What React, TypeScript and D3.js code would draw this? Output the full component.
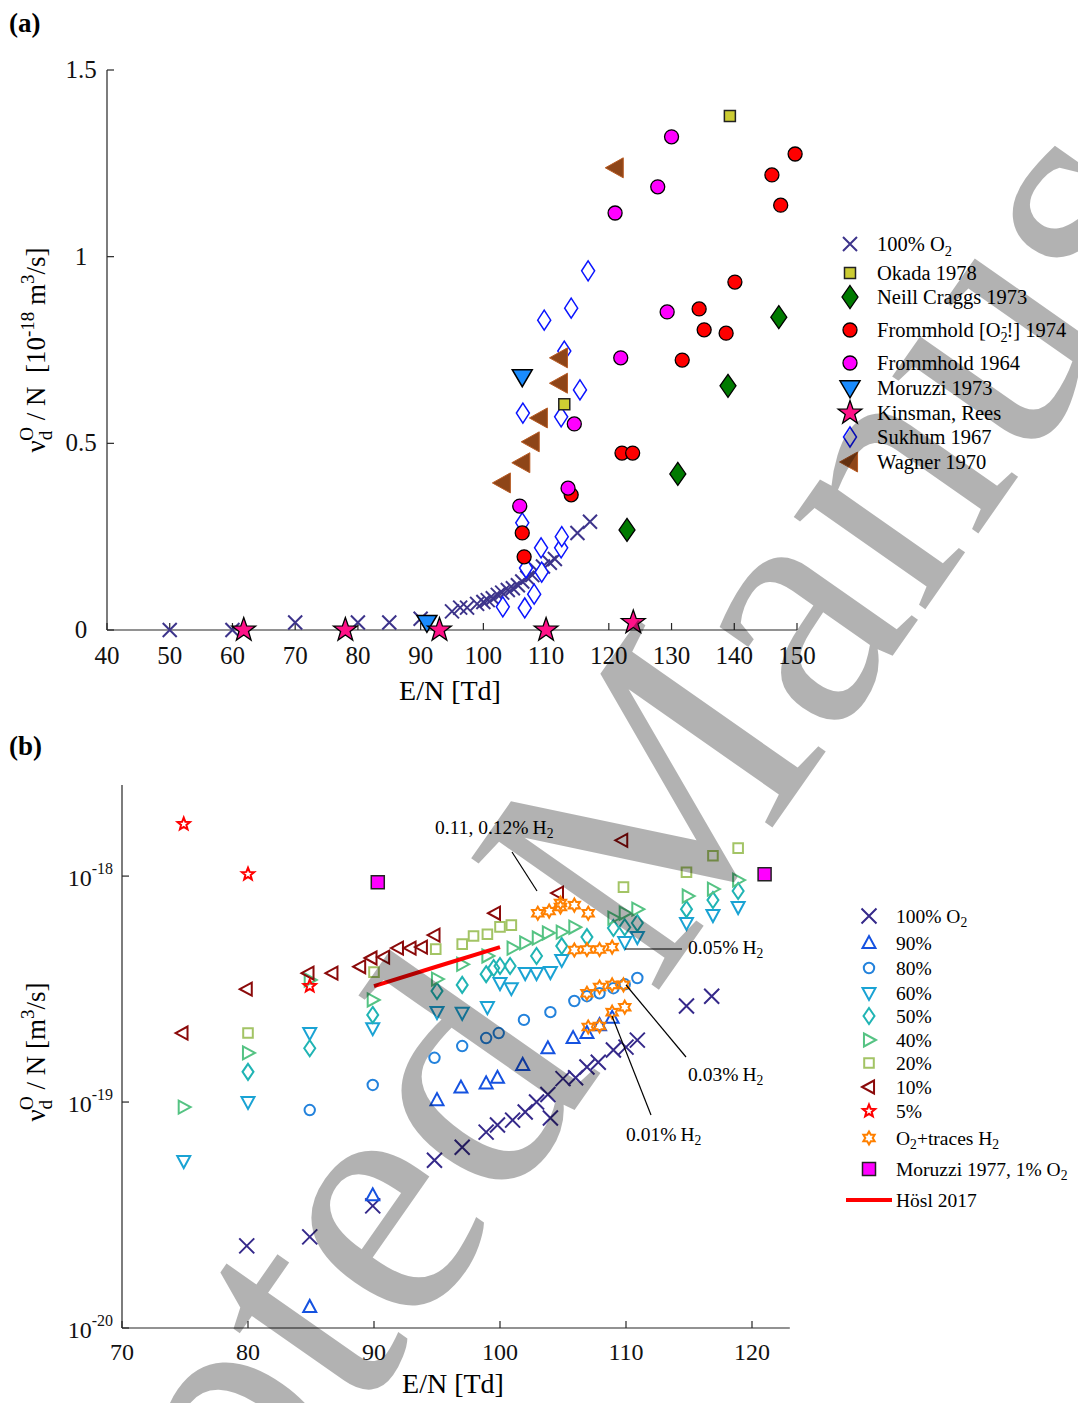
import React from "react";
import * as d3 from "d3";

const W = 1078;
const H = 1403;
const SERIF = '"Liberation Serif", "DejaVu Serif", serif';
const AX = "#262626";

// ---------------- panel (a) data ----------------
const aXTicks = [40, 50, 60, 70, 80, 90, 100, 110, 120, 130, 140, 150];
const aYTicks = [0, 0.5, 1, 1.5];
const aYTickLabels = ["0", "0.5", "1", "1.5"];

const aO2X = [50, 60, 70, 80, 85, 90, 95, 96.3, 97.4, 99, 100, 100.7, 101.5, 102.3, 103, 103.9, 104.7, 105.5, 106.2, 107, 107.8, 108.5, 109.5, 110.6, 111.4, 115, 117];
const aO2Y = [0, 0, 0.02, 0.02, 0.02, 0.03, 0.05, 0.06, 0.06, 0.07, 0.075, 0.08, 0.085, 0.094, 0.1, 0.107, 0.112, 0.12, 0.13, 0.14, 0.147, 0.16, 0.17, 0.18, 0.19, 0.26, 0.29];
const okadaX = [139.3, 112.9];
const okadaY = [1.377, 0.605];
const neillX = [147.1, 139, 131, 122.9];
const neillY = [0.838, 0.654, 0.418, 0.268];
const fr74X = [149.7, 146, 147.4, 140.1, 134.4, 135.2, 138.7, 131.7, 122.1, 123.8, 114, 106.2, 106.5];
const fr74Y = [1.275, 1.219, 1.138, 0.932, 0.86, 0.804, 0.795, 0.723, 0.474, 0.474, 0.362, 0.26, 0.196];
const fr64X = [130, 127.8, 121, 129.3, 121.9, 114.5, 113.5, 105.8];
const fr64Y = [1.321, 1.187, 1.117, 0.852, 0.729, 0.552, 0.38, 0.332];
const mor73X = [106.2, 91];
const mor73Y = [0.678, 0.02];
const kinsX = [61.8, 78, 93, 110, 123.9];
const kinsY = [0, 0, 0, 0, 0.02];
const sukX = [116.7, 114, 109.7, 112.9, 115.4, 106.3, 112.4, 106.2, 109.2, 112.4, 112.5, 106.8, 109.3, 108.1, 103.1, 106.6];
const sukY = [0.962, 0.862, 0.83, 0.747, 0.643, 0.581, 0.571, 0.287, 0.22, 0.22, 0.25, 0.166, 0.155, 0.096, 0.062, 0.059];
const wagX = [121.1, 112.2, 112.2, 109, 107.7, 106.2, 103.1];
const wagY = [1.238, 0.729, 0.661, 0.568, 0.504, 0.448, 0.394];

// ---------------- panel (b) data ----------------
const bXTicks = [70, 80, 90, 100, 110, 120];
const bYTicks = [1e-20, 1e-19, 1e-18];
const bYTickExp = ["-20", "-19", "-18"];

const b100X = [79.9, 84.9, 89.9, 94.8, 97, 98.9, 99.8, 101, 102, 102.9, 103.8, 104, 105, 106, 106.9, 107.8, 109, 110, 110.9, 114.8, 116.8];
const b100Y = [2.31e-20, 2.53e-20, 3.47e-20, 5.53e-20, 6.31e-20, 7.36e-20, 7.91e-20, 8.32e-20, 9.03e-20, 1.0e-19, 1.08e-19, 8.5e-20, 1.27e-19, 1.28e-19, 1.43e-19, 1.5e-19, 1.7e-19, 1.75e-19, 1.88e-19, 2.66e-19, 2.94e-19];
const b90X = [84.9, 89.9, 95, 96.9, 98.9, 99.8, 101.8, 103.8, 105.8, 106.9, 107.9, 108.9];
const b90Y = [1.24e-20, 3.87e-20, 1.02e-19, 1.16e-19, 1.21e-19, 1.28e-19, 1.46e-19, 1.73e-19, 1.92e-19, 2.02e-19, 2.19e-19, 2.36e-19];
const b80X = [84.9, 89.9, 94.8, 97, 98.9, 99.9, 101.9, 104, 105.9, 106.9, 107.9, 109, 109.9, 110.9];
const b80Y = [9.22e-20, 1.19e-19, 1.57e-19, 1.77e-19, 1.92e-19, 2.02e-19, 2.31e-19, 2.5e-19, 2.8e-19, 2.94e-19, 3.03e-19, 3.19e-19, 3.32e-19, 3.54e-19];
const b60X = [74.9, 80, 84.9, 89.9, 95, 97, 99, 100, 100.9, 102, 102.9, 104, 104.9, 109.9, 110.9, 114.8, 116.9, 118.9];
const b60Y = [5.48e-20, 1.0e-19, 2.02e-19, 2.12e-19, 2.5e-19, 2.48e-19, 2.63e-19, 3.36e-19, 3.19e-19, 3.72e-19, 3.72e-19, 3.76e-19, 4.25e-19, 5.1e-19, 5.37e-19, 6.2e-19, 6.72e-19, 7.29e-19];
const b50X = [80, 84.9, 89.9, 95, 97, 98.9, 99.5, 100, 100.8, 102.9, 104.9, 106.9, 109, 109.9, 110.9, 114.8, 116.9, 118.9];
const b50Y = [1.36e-19, 1.73e-19, 2.43e-19, 3.1e-19, 3.3e-19, 3.68e-19, 3.92e-19, 4.0e-19, 4.0e-19, 4.43e-19, 4.9e-19, 5.37e-19, 5.89e-19, 5.94e-19, 6.2e-19, 7.14e-19, 7.83e-19, 8.59e-19];
const b40X = [74.9, 80, 84.9, 89.9, 95, 97, 99, 101, 102, 103, 103.8, 104.9, 105.9, 109, 109.9, 110.9, 114.9, 116.9, 118.9];
const b40Y = [9.5e-20, 1.65e-19, 3.47e-19, 2.83e-19, 3.5e-19, 4.07e-19, 4.43e-19, 4.8e-19, 5.06e-19, 5.32e-19, 5.6e-19, 5.65e-19, 5.94e-19, 6.52e-19, 6.85e-19, 7.14e-19, 8.16e-19, 8.76e-19, 9.6e-19];
const b20X = [80, 90, 94.9, 97, 97.9, 99, 100, 100.9, 109.8, 114.8, 116.9, 118.9];
const b20Y = [2.02e-19, 3.76e-19, 4.75e-19, 5.0e-19, 5.43e-19, 5.53e-19, 5.96e-19, 6.07e-19, 8.94e-19, 1.04e-18, 1.23e-18, 1.33e-18];
const b10X = [74.8, 79.9, 84.8, 86.7, 88.9, 89.8, 90.8, 91.9, 92.9, 93.8, 94.8, 99.6, 104.6, 109.7];
const b10Y = [2.02e-19, 3.16e-19, 3.72e-19, 3.72e-19, 3.97e-19, 4.34e-19, 4.38e-19, 4.8e-19, 4.8e-19, 4.85e-19, 5.48e-19, 6.85e-19, 8.41e-19, 1.44e-18];
const b5X = [74.9, 80, 84.9];
const b5Y = [1.7e-18, 1.02e-18, 3.26e-19];
const trX = [103, 103.9, 104.8, 104.8, 105.9, 107, 105.9, 106.9, 107.9, 108.9, 106.9, 107.9, 108.9, 109.8, 107, 107.9, 108.9, 109.9];
const trY = [6.85e-19, 7.0e-19, 7.6e-19, 7.3e-19, 7.44e-19, 6.85e-19, 4.71e-19, 4.73e-19, 4.73e-19, 4.85e-19, 3.03e-19, 3.23e-19, 3.3e-19, 3.3e-19, 2.15e-19, 2.17e-19, 2.5e-19, 2.63e-19];
const mor77X = [90.3, 121];
const mor77Y = [9.4e-19, 1.02e-18];
const hoslX = [90, 95, 100];
const hoslY = [3.26e-19, 3.98e-19, 4.85e-19];

// ---------------- markers ----------------
const starPath = (n: number, R: number, r: number) => {
  const pts = d3.range(n * 2).map((i) => {
    const a = -Math.PI / 2 + (i * Math.PI) / n;
    const rad = i % 2 ? r : R;
    return [rad * Math.cos(a), rad * Math.sin(a)];
  });
  return "M" + pts.map((p) => p[0].toFixed(2) + "," + p[1].toFixed(2)).join("L") + "Z";
};
const cross = (s: number) => `M${-s},${-s}L${s},${s}M${-s},${s}L${s},${-s}`;
const square = (s: number) => `M${-s},${-s}H${s}V${s}H${-s}Z`;
const diamond = (w: number, h: number) => `M0,${-h}L${w},0L0,${h}L${-w},0Z`;
const circle = (r: number) => `M${r},0A${r},${r} 0 1,1 ${-r},0A${r},${r} 0 1,1 ${r},0Z`;
const triDown = (w: number, h: number) => `M${-w},${-h * 0.42}L${w},${-h * 0.42}L0,${h * 0.58}Z`;
const triUp = (w: number, h: number) => `M${-w},${h * 0.42}L${w},${h * 0.42}L0,${-h * 0.58}Z`;
const triLeft = (w: number, h: number) => `M${-w * 0.58},0L${w * 0.42},${-h}L${w * 0.42},${h}Z`;
const triRight = (w: number, h: number) => `M${w * 0.58},0L${-w * 0.42},${-h}L${-w * 0.42},${h}Z`;

type Sty = { d: string; fill: string; stroke: string; sw: number };

const Marks = ({ xs, ys, x, y, s }: { xs: number[]; ys: number[]; x: any; y: any; s: Sty }) => (
  <g>
    {xs.map((v, i) => (
      <path key={i} d={s.d} transform={`translate(${x(v)},${y(ys[i])})`} fill={s.fill} stroke={s.stroke} strokeWidth={s.sw} />
    ))}
  </g>
);

// panel (a) styles
const sA = {
  o2: { d: cross(7), fill: "none", stroke: "#3d348b", sw: 2 },
  okada: { d: square(5.5), fill: "#cccc33", stroke: "#222", sw: 1.5 },
  neill: { d: diamond(8, 11.5), fill: "#007a00", stroke: "#000", sw: 1.3 },
  fr74: { d: circle(7), fill: "#ff0000", stroke: "#000", sw: 1.3 },
  fr64: { d: circle(7), fill: "#ff00ff", stroke: "#000", sw: 1.3 },
  mor73: { d: triDown(10, 17), fill: "#1a8cff", stroke: "#000", sw: 1.5 },
  kins: { d: starPath(5, 12.5, 5), fill: "#ff1288", stroke: "#000", sw: 1.3 },
  suk: { d: diamond(6.5, 10), fill: "#fff", stroke: "#0a14ff", sw: 1.5 },
  wag: { d: triLeft(18, 10), fill: "#8e4518", stroke: "#b85a22", sw: 1 },
};

// panel (b) styles
const sB = {
  b100: { d: cross(7.5), fill: "none", stroke: "#35298a", sw: 2 },
  b90: { d: triUp(6.5, 12), fill: "none", stroke: "#1552e0", sw: 2 },
  b80: { d: circle(5.2), fill: "none", stroke: "#2382dc", sw: 2 },
  b60: { d: triDown(6.5, 12), fill: "none", stroke: "#1aa3d4", sw: 2 },
  b50: { d: diamond(5.5, 8), fill: "none", stroke: "#20b4b4", sw: 2 },
  b40: { d: triRight(12, 6.5), fill: "none", stroke: "#55c383", sw: 2 },
  b20: { d: square(4.8), fill: "none", stroke: "#a3c465", sw: 2 },
  b10: { d: triLeft(12, 6.5), fill: "none", stroke: "#8b0a0a", sw: 2 },
  b5: { d: starPath(5, 6.5, 2.8), fill: "none", stroke: "#ff0000", sw: 2 },
  tr: { d: starPath(6, 6.5, 3.7), fill: "none", stroke: "#ff8000", sw: 2 },
  mor77: { d: square(6.5), fill: "#ff00ff", stroke: "#222", sw: 1.5 },
};

export default function App() {
  // scales
  const xA = d3.scaleLinear().domain([40, 150]).range([107, 797]);
  const yA = d3.scaleLinear().domain([0, 1.5]).range([630, 70]);
  const xB = d3.scaleLinear().domain([70, 123]).range([122, 789.8]);
  const yB = d3.scaleLog().domain([1e-20, 2.53e-18]).range([1328, 785]);

  const hoslLine = d3.line<number>().x((v) => xB(v)).y((_, i) => yB(hoslY[i]));

  const legA: [Sty, any][] = [
    [sA.o2, <>100% O<tspan fontSize="0.7em" dy="0.32em">2</tspan></>],
    [sA.okada, <>Okada 1978</>],
    [sA.neill, <>Neill Craggs 1973</>],
    [sA.fr74, <>Frommhold [O<tspan fontSize="0.7em" dy="0.32em">2</tspan><tspan fontSize="0.7em" dx="-6" dy="-0.75em">-</tspan><tspan dy="0.3em">!] 1974</tspan></>],
    [sA.fr64, <>Frommhold 1964</>],
    [sA.mor73, <>Moruzzi 1973</>],
    [sA.kins, <>Kinsman, Rees</>],
    [sA.suk, <>Sukhum 1967</>],
    [sA.wag, <>Wagner 1970</>],
  ];
  const legAY = [244, 273, 297, 330, 363, 388, 413, 437, 462];

  const legB: [Sty | null, any][] = [
    [sB.b100, <>100% O<tspan fontSize="0.7em" dy="0.32em">2</tspan></>],
    [sB.b90, <>90%</>],
    [sB.b80, <>80%</>],
    [sB.b60, <>60%</>],
    [sB.b50, <>50%</>],
    [sB.b40, <>40%</>],
    [sB.b20, <>20%</>],
    [sB.b10, <>10%</>],
    [sB.b5, <>5%</>],
    [sB.tr, <>O<tspan fontSize="0.7em" dy="0.32em">2</tspan><tspan dy="-0.22em">+traces H</tspan><tspan fontSize="0.7em" dy="0.32em">2</tspan></>],
    [sB.mor77, <>Moruzzi 1977, 1% O<tspan fontSize="0.7em" dy="0.32em">2</tspan></>],
    [null, <>Hösl 2017</>],
  ];
  const legBY = [916, 943, 968, 993, 1016, 1040, 1063, 1087, 1111, 1138, 1169, 1200];

  const ann = (x: number, y: number, label: string) => (
    <text x={x} y={y} fontSize={19.5}>
      {label}
      <tspan dx="4">H</tspan>
      <tspan fontSize="0.7em" dy="0.32em">2</tspan>
    </text>
  );

  return (
    <svg width={W} height={H} style={{ position: "absolute", left: 0, top: 0, background: "#fff" }} fontFamily={SERIF}>
      <rect width={W} height={H} fill="#fff" />

      {/* ---------- panel (a) ---------- */}
      <text x={9} y={32} fontSize={27} fontWeight="bold">(a)</text>
      <g stroke={AX} strokeWidth={1.2}>
        <line x1={107} x2={107} y1={70} y2={630} />
        <line x1={107} x2={797} y1={630} y2={630} />
        {aXTicks.map((t) => (
          <line key={t} x1={xA(t)} x2={xA(t)} y1={630} y2={623} />
        ))}
        {aYTicks.map((t) => (
          <line key={t} x1={107} x2={114} y1={yA(t)} y2={yA(t)} />
        ))}
      </g>
      <g fontSize={25} fill="#111">
        {aXTicks.map((t) => (
          <text key={t} x={xA(t)} y={664} textAnchor="middle">{t}</text>
        ))}
        {aYTicks.map((t, i) => (
          <text key={t} x={81} y={yA(t) + 8} textAnchor="middle">{aYTickLabels[i]}</text>
        ))}
      </g>
      <text x={450} y={700} fontSize={28} textAnchor="middle">E/N [Td]</text>
      <text transform="translate(45,350) rotate(-90)" fontSize={27} textAnchor="middle" style={{ whiteSpace: "pre" }}>
        <tspan>ν</tspan>
        <tspan fontSize={19} dy={7}>d</tspan>
        <tspan fontSize={19} dx={-10} dy={-19}>O</tspan>
        <tspan dy={12}>{" / N  [10"}</tspan>
        <tspan fontSize={19} dy={-11}>-18</tspan>
        <tspan dy={11}>{" m"}</tspan>
        <tspan fontSize={19} dy={-11}>3</tspan>
        <tspan dy={11}>/s]</tspan>
      </text>

      <Marks xs={aO2X} ys={aO2Y} x={xA} y={yA} s={sA.o2} />
      <Marks xs={sukX} ys={sukY} x={xA} y={yA} s={sA.suk} />
      <Marks xs={fr74X} ys={fr74Y} x={xA} y={yA} s={sA.fr74} />
      <Marks xs={fr64X} ys={fr64Y} x={xA} y={yA} s={sA.fr64} />
      <Marks xs={okadaX} ys={okadaY} x={xA} y={yA} s={sA.okada} />
      <Marks xs={neillX} ys={neillY} x={xA} y={yA} s={sA.neill} />
      <Marks xs={mor73X} ys={mor73Y} x={xA} y={yA} s={sA.mor73} />
      <Marks xs={kinsX} ys={kinsY} x={xA} y={yA} s={sA.kins} />
      <Marks xs={wagX} ys={wagY} x={xA} y={yA} s={sA.wag} />

      <g fontSize={20.5}>
        {legA.map(([s, label], i) => (
          <g key={i}>
            <path d={s.d} transform={`translate(850,${legAY[i]})`} fill={s.fill} stroke={s.stroke} strokeWidth={s.sw} />
            <text x={877} y={legAY[i] + 7}>{label}</text>
          </g>
        ))}
      </g>

      {/* ---------- panel (b) ---------- */}
      <text x={9} y={755} fontSize={27} fontWeight="bold">(b)</text>
      <g stroke={AX} strokeWidth={1.2}>
        <line x1={122} x2={122} y1={785} y2={1328} />
        <line x1={122} x2={789.8} y1={1328} y2={1328} />
        {bXTicks.map((t) => (
          <line key={t} x1={xB(t)} x2={xB(t)} y1={1328} y2={1321} />
        ))}
        {bYTicks.map((t) => (
          <line key={t} x1={122} x2={129} y1={yB(t)} y2={yB(t)} />
        ))}
      </g>
      <g fontSize={24} fill="#111">
        {bXTicks.map((t) => (
          <text key={t} x={xB(t)} y={1360} textAnchor="middle">{t}</text>
        ))}
        {bYTicks.map((t, i) => (
          <text key={t} x={113} y={yB(t) + 10} textAnchor="end">
            10<tspan fontSize={16} dy={-12}>{bYTickExp[i]}</tspan>
          </text>
        ))}
      </g>
      <text x={453} y={1393} fontSize={28} textAnchor="middle">E/N [Td]</text>
      <text transform="translate(45,1052) rotate(-90)" fontSize={27} textAnchor="middle" style={{ whiteSpace: "pre" }}>
        <tspan>ν</tspan>
        <tspan fontSize={19} dy={7}>d</tspan>
        <tspan fontSize={19} dx={-10} dy={-19}>O</tspan>
        <tspan dy={12}>{" / N [m"}</tspan>
        <tspan fontSize={19} dy={-11}>3</tspan>
        <tspan dy={11}>/s]</tspan>
      </text>

      <Marks xs={b100X} ys={b100Y} x={xB} y={yB} s={sB.b100} />
      <Marks xs={b90X} ys={b90Y} x={xB} y={yB} s={sB.b90} />
      <Marks xs={b80X} ys={b80Y} x={xB} y={yB} s={sB.b80} />
      <Marks xs={b60X} ys={b60Y} x={xB} y={yB} s={sB.b60} />
      <Marks xs={b50X} ys={b50Y} x={xB} y={yB} s={sB.b50} />
      <Marks xs={b40X} ys={b40Y} x={xB} y={yB} s={sB.b40} />
      <Marks xs={b20X} ys={b20Y} x={xB} y={yB} s={sB.b20} />
      <Marks xs={b10X} ys={b10Y} x={xB} y={yB} s={sB.b10} />
      <Marks xs={b5X} ys={b5Y} x={xB} y={yB} s={sB.b5} />
      <Marks xs={trX} ys={trY} x={xB} y={yB} s={sB.tr} />
      <Marks xs={mor77X} ys={mor77Y} x={xB} y={yB} s={sB.mor77} />
      <path d={hoslLine(hoslX) || ""} fill="none" stroke="#ff0000" strokeWidth={4} />

      {/* annotations */}
      <g stroke="#000" strokeWidth={1.2}>
        <line x1={512} y1={852} x2={537} y2={891} />
        <line x1={625} y1={949} x2={682} y2={949} />
        <line x1={626} y1={985} x2={686} y2={1057} />
        <line x1={612} y1={1016} x2={651} y2={1115} />
      </g>
      {ann(435, 834, "0.11, 0.12%")}
      {ann(688, 954, "0.05%")}
      {ann(688, 1081, "0.03%")}
      {ann(626, 1141, "0.01%")}

      <g fontSize={19.5}>
        {legB.map(([s, label], i) => (
          <g key={i}>
            {s ? (
              <path d={s.d} transform={`translate(869,${legBY[i]})`} fill={s.fill} stroke={s.stroke} strokeWidth={s.sw} />
            ) : (
              <line x1={846} x2={892} y1={legBY[i]} y2={legBY[i]} stroke="#ff0000" strokeWidth={4} />
            )}
            <text x={896} y={legBY[i] + 7}>{label}</text>
          </g>
        ))}
      </g>

      {/* watermark */}
      <text
        transform="translate(-155,2152) rotate(-55)"
        fontSize={350}
        fill="#000"
        fillOpacity={0.3}
      >
        Accepted Manuscript
      </text>
    </svg>
  );
}
